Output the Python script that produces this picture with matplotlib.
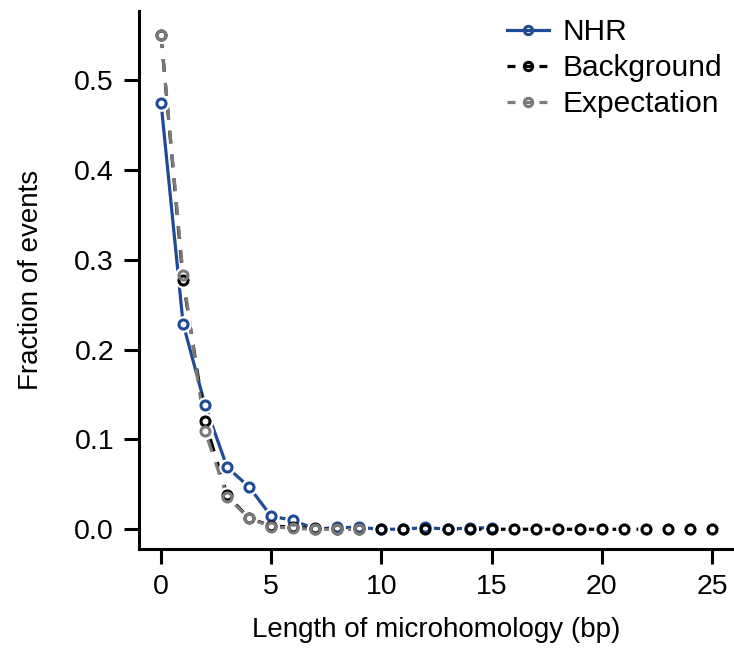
import matplotlib
matplotlib.use("Agg")
import matplotlib.pyplot as plt
import numpy as np

plt.rcParams["font.family"] = ["Liberation Sans", "DejaVu Sans"]

# values
nhr_x = [0, 1, 2, 3, 4, 5, 6, 7, 8, 9, 10, 11, 12, 13, 14, 15]
nhr_y = [0.475, 0.229, 0.138, 0.069, 0.047, 0.0145, 0.010, 0.0, 0.002, 0.002,
         0.0, 0.0, 0.002, 0.0, 0.0015, 0.0015]
bg_x = list(range(0, 26))
bg_y = [0.55, 0.277, 0.12, 0.038, 0.012, 0.004, 0.002, 0.001, 0.0005, 0.0003] + [0.0] * 16
exp_x = list(range(0, 10))
exp_y = [0.55, 0.283, 0.109, 0.036, 0.012, 0.003, 0.001, 0.0, 0.0, 0.0]

dash = (0, (4, 3.5))
series = [
    ("NHR", nhr_x, nhr_y, "#1f4a96", "-"),
    ("Background", bg_x, bg_y, "black", dash),
    ("Expectation", exp_x, exp_y, "#7a7a7a", dash),
]

fig = plt.figure(figsize=(7.34, 6.49), dpi=100)
ax = fig.add_axes([139 / 734, 100 / 649, 1 - 139 / 734, 538 / 649])

for name, xs, ys, col, ls in series:
    ax.plot(xs, ys, color=col, linestyle=ls, linewidth=2.3, zorder=2)
    # white halo so lines stop short of the points, like R type="b"
    ax.plot(xs, ys, linestyle="none", marker="o", markersize=11,
            markerfacecolor="white", markeredgecolor="white", zorder=3)
    ax.plot(xs, ys, linestyle="none", marker="o", markersize=6.5,
            markerfacecolor="none", markeredgecolor=col, markeredgewidth=2.2,
            zorder=4)

# legend handles
handles = []
for name, xs, ys, col, ls in series:
    (h,) = ax.plot([], [], color=col, linestyle=ls if ls == "-" else (0, (2.5, 2.5)),
                   linewidth=2.3, marker="o",
                   markersize=6, markerfacecolor="none",
                   markeredgecolor=col, markeredgewidth=2.2, label=name)
    handles.append(h)
fig.legend(handles=handles, loc="upper left", frameon=False, fontsize=21.5,
           handlelength=1.4, handletextpad=0.47, labelspacing=0.27,
           borderpad=0, borderaxespad=0,
           bbox_to_anchor=(507 / 734, 1 - 18 / 649))

ax.set_xlim(-1, 26)
ax.set_ylim(-0.022, 0.577)
ax.set_xticks([0, 5, 10, 15, 20, 25])
ax.set_yticks([0.0, 0.1, 0.2, 0.3, 0.4, 0.5])
ax.set_yticklabels(["0.0", "0.1", "0.2", "0.3", "0.4", "0.5"])
for s in ["top", "right"]:
    ax.spines[s].set_visible(False)
for s in ["left", "bottom"]:
    ax.spines[s].set_linewidth(2.2)
ax.tick_params(axis="both", length=11, width=2.2, labelsize=20.5, pad=7)
ax.set_xlabel("Length of microhomology (bp)", fontsize=20, labelpad=12)
ax.set_ylabel("Fraction of events", fontsize=20, labelpad=22)

fig.savefig("out.png", dpi=100)
